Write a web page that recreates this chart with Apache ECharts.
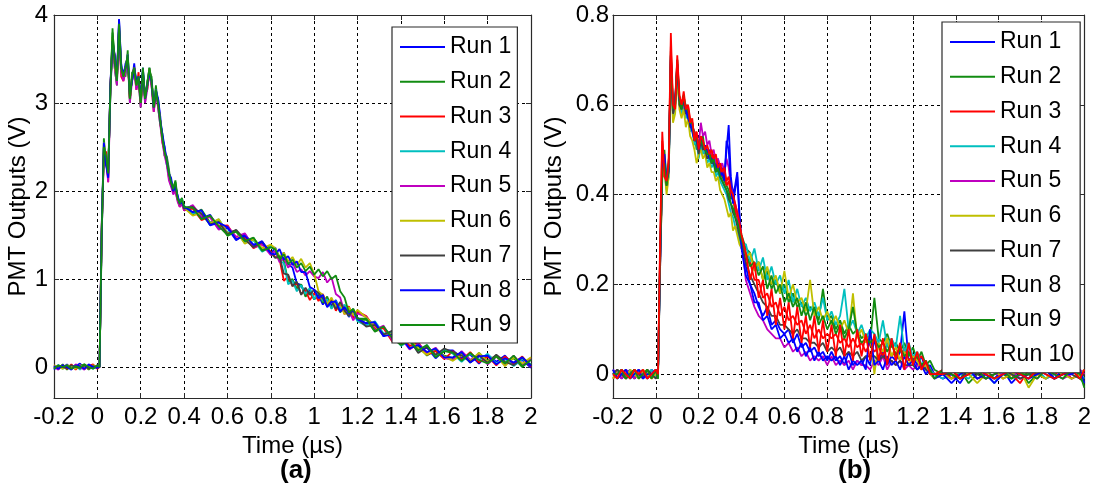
<!DOCTYPE html>
<html>
<head>
<meta charset="utf-8">
<script src="https://cdn.jsdelivr.net/npm/echarts@6.0.0/dist/echarts.min.js"></script>
<style>
html, body { margin: 0; padding: 0; background: #fff; }
#chart { width: 1094px; height: 487px; }
</style>
</head>
<body>
<div id="chart"></div>
<script>
// time axes (us)
const timeA = [-0.2,-0.18,-0.16,-0.14,-0.12,-0.1,-0.08,-0.06,-0.04,-0.02,0,
  0.01,0.02,0.03,0.04,0.05,0.06,0.07,0.08,0.09,0.1,
  0.11,0.12,0.13,0.14,0.15,0.16,0.17,0.18,0.19,0.2,
  0.21,0.22,0.23,0.24,0.25,0.26,0.27,0.28,0.29,0.3,
  0.31,0.32,0.33,0.34,0.35,0.36,0.37,0.38,0.39,0.4,
  0.44,0.48,0.52,0.56,0.6,0.64,0.68,0.72,0.76,0.8,
  0.82,0.84,0.86,0.88,0.9,0.92,0.94,0.96,0.98,1,
  1.02,1.04,1.06,1.08,1.1,1.12,1.14,1.16,1.18,1.2,
  1.24,1.28,1.32,1.36,1.4,1.44,1.48,1.52,1.56,1.6,
  1.64,1.68,1.72,1.76,1.8,1.84,1.88,1.92,1.96,2]

const timeB = [-0.2,-0.18,-0.16,-0.14,-0.12,-0.1,-0.08,-0.06,-0.04,-0.02,0,
  0.01,0.02,0.03,0.04,0.05,0.06,0.07,0.08,0.09,0.1,
  0.11,0.12,0.13,0.14,0.15,0.16,0.17,0.18,0.19,0.2,
  0.21,0.22,0.23,0.24,0.25,0.26,0.27,0.28,0.29,0.3,
  0.31,0.32,0.33,0.34,0.35,0.36,0.37,0.38,0.39,0.4,
  0.42,0.44,0.46,0.48,0.5,0.52,0.54,0.56,0.58,0.6,
  0.62,0.64,0.66,0.68,0.7,0.72,0.74,0.76,0.78,0.8,
  0.82,0.84,0.86,0.88,0.9,0.92,0.94,0.96,0.98,1,
  1.02,1.04,1.06,1.08,1.1,1.12,1.14,1.16,1.18,1.2,
  1.22,1.24,1.26,1.28,1.3,
  1.34,1.38,1.42,1.46,1.5,1.54,1.58,1.62,1.66,1.7,1.74,1.78,1.82,1.86,1.9,1.94,1.98,2]

// panel (a) runs, volts
const runA1 = [-0.03,0.02,-0.01,0.03,-0.02,0.01,0.04,-0.02,0.02,-0.01,0.02,
  0,1.55,2.5,2.4,2.15,3.2,3.75,3.5,3.3,3.95,
  3.45,3.3,3.45,3.5,3.1,3.25,3.45,3.2,3.3,3.05,
  3.35,3.1,3.2,3.4,3.2,3,3.1,3.05,2.85,2.6,
  2.5,2.3,2.2,2.15,2,2.05,1.95,1.84,1.88,1.8,
  1.83,1.69,1.73,1.57,1.58,1.44,1.51,1.38,1.43,1.28,
  1.36,1.24,1.3,1.17,1.13,0.95,0.93,0.82,0.88,0.77,
  0.82,0.71,0.78,0.7,0.76,0.64,0.67,0.57,0.63,0.56,
  0.49,0.49,0.35,0.41,0.28,0.31,0.18,0.22,0.1,0.19,
  0.19,0.1,0.14,0.04,0.14,0.06,0.13,0.02,0.08,-0.01]
const runA2 = [0.01,-0.02,0.03,-0.03,0.02,-0.01,0.01,0.03,-0.03,0.01,-0.01,
  0.01,1.45,2.6,2.3,2.25,3.1,3.85,3.4,3.2,3.85,
  3.35,3.35,3.3,3.6,3,3.35,3.35,3.25,3.25,2.95,
  3.4,3,3.25,3.35,3.3,2.95,3.2,2.95,2.75,2.65,
  2.4,2.4,2.25,2.05,2.05,2.1,1.9,1.88,1.92,1.83,
  1.73,1.79,1.64,1.67,1.49,1.54,1.41,1.47,1.33,1.38,
  1.34,1.25,1.21,0.97,1,0.89,0.94,0.8,0.85,0.77,
  0.85,0.73,0.8,0.67,0.73,0.62,0.7,0.6,0.66,0.53,
  0.54,0.4,0.45,0.33,0.36,0.22,0.24,0.13,0.19,0.13,
  0.1,0.15,0.05,0.16,0.07,0.13,0.03,0.1,0,0.09]
const runA3 = [0.02,-0.01,0.01,-0.02,0.03,-0.03,0.02,-0.01,0.01,0.03,-0.02,
  0,1.6,2.4,2.45,2.1,3.2,3.65,3.55,3.25,3.8,
  3.3,3.25,3.4,3.5,3.05,3.3,3.4,3.15,3.35,3,
  3.3,3.1,3.15,3.35,3.2,2.9,3.1,3,2.8,2.55,
  2.45,2.35,2.15,2.1,1.98,2,1.9,1.82,1.86,1.78,
  1.8,1.67,1.71,1.6,1.61,1.46,1.48,1.35,1.4,1.31,
  1.25,1.23,0.98,1.03,0.92,0.95,0.83,0.87,0.76,0.84,
  0.75,0.83,0.71,0.77,0.64,0.72,0.6,0.69,0.56,0.63,
  0.58,0.44,0.44,0.29,0.35,0.24,0.28,0.14,0.18,0.09,
  0.18,0.08,0.17,0.05,0.12,0.02,0.12,0.04,0.12,0]
const runA4 = [-0.01,0.02,-0.02,0.01,0,0.02,-0.03,0.02,0,-0.02,0.01,
  0,1.5,2.5,2.35,2.2,3.1,3.7,3.45,3.3,3.85,
  3.4,3.3,3.35,3.55,3.1,3.3,3.35,3.2,3.3,3,
  3.35,3.05,3.2,3.4,3.25,2.95,3.15,3,2.8,2.6,
  2.45,2.35,2.2,2.1,2,2.08,1.92,1.86,1.9,1.82,
  1.75,1.76,1.61,1.68,1.53,1.55,1.42,1.44,1.31,1.37,
  1.35,1.21,1.18,0.94,0.98,0.86,0.93,0.83,0.9,0.77,
  0.86,0.75,0.77,0.66,0.75,0.66,0.71,0.58,0.62,0.52,
  0.47,0.52,0.38,0.4,0.24,0.3,0.17,0.25,0.12,0.2,
  0.15,0.06,0.15,0.08,0.15,0.04,0.09,0.01,0.09,0.03]
const runA5 = [0,-0.03,0.02,0,-0.02,0.03,0,-0.03,0.02,0,0.01,
  0,1.5,2.45,2.35,2.1,3.1,3.7,3.4,3.2,3.85,
  3.35,3.25,3.35,3.5,3,3.25,3.35,3.15,3.25,2.95,
  3.3,3,3.15,3.35,3.2,2.9,3.1,2.95,2.75,2.55,
  2.4,2.3,2.12,2.05,1.96,2,1.88,1.82,1.85,1.78,
  1.84,1.71,1.7,1.56,1.6,1.48,1.52,1.36,1.39,1.27,
  1.32,1.19,1.24,1.13,1.19,1.08,1.11,1.04,1.09,1.03,
  1.01,1.08,0.96,1.02,0.83,0.79,0.62,0.65,0.53,0.61,
  0.57,0.42,0.47,0.3,0.33,0.2,0.27,0.16,0.22,0.1,
  0.08,0.18,0.08,0.15,0.03,0.12,0.02,0.13,0.02,0.1]
const runA6 = [0.02,0,-0.02,0.02,0.01,-0.02,0.02,0,-0.02,0.02,0,
  0,1.55,2.55,2.35,2.2,3.15,3.75,3.45,3.25,3.9,
  3.4,3.3,3.4,3.55,3.05,3.3,3.4,3.2,3.3,3,
  3.35,3.05,3.2,3.4,3.25,2.95,3.15,3,2.8,2.6,
  2.45,2.35,2.2,2.1,2.02,2.05,1.92,1.85,1.88,1.81,
  1.72,1.75,1.63,1.68,1.52,1.55,1.4,1.45,1.35,1.39,
  1.35,1.25,1.3,1.2,1.25,1.16,1.23,1.13,1.18,1.06,
  0.86,0.82,0.71,0.79,0.68,0.73,0.6,0.68,0.59,0.65,
  0.56,0.47,0.36,0.38,0.26,0.32,0.21,0.14,0.21,0.12,
  0.07,0.14,0.07,0.16,0.06,0.13,0.01,0.11,0.04,0.11]
const runA7 = [-0.02,0.01,0,-0.01,0.02,0,-0.01,0.02,-0.02,0.01,0,
  0,1.5,2.5,2.3,2.2,3.15,3.7,3.45,3.3,3.85,
  3.4,3.3,3.4,3.5,3.05,3.3,3.4,3.2,3.3,3,
  3.35,3.05,3.2,3.38,3.25,2.95,3.12,3,2.8,2.6,
  2.45,2.35,2.2,2.1,2,2.06,1.92,1.85,1.88,1.8,
  1.82,1.74,1.62,1.65,1.51,1.56,1.45,1.36,1.42,1.3,
  1.24,1.26,1.06,1.05,0.92,0.97,0.82,0.9,0.82,0.88,
  0.84,0.78,0.69,0.75,0.66,0.74,0.64,0.58,0.65,0.55,
  0.46,0.48,0.37,0.41,0.27,0.31,0.16,0.23,0.14,0.21,
  0.17,0.13,0.06,0.13,0.05,0.14,0.06,0.02,0.11,0.02]
const runA8 = [0.01,-0.02,0.02,0,-0.03,0.02,0.01,-0.02,0.03,0,-0.01,
  0,1.6,2.55,2.3,2.15,3.2,3.7,3.55,3.25,3.95,
  3.4,3.35,3.4,3.55,3.1,3.25,3.4,3.25,3.3,3.05,
  3.4,3.05,3.2,3.35,3.25,2.95,3.15,3.05,2.8,2.65,
  2.5,2.35,2.2,2.12,2,2.05,1.95,1.86,1.87,1.82,
  1.76,1.78,1.61,1.64,1.59,1.45,1.49,1.39,1.42,1.29,
  1.28,1.34,1.22,1.26,1.16,1.2,1.08,1.08,0.91,0.88,
  0.78,0.82,0.68,0.74,0.74,0.63,0.68,0.61,0.65,0.54,
  0.5,0.51,0.35,0.37,0.34,0.21,0.25,0.17,0.21,0.11,
  0.11,0.17,0.05,0.12,0.13,0.03,0.1,0.05,0.11,0.01]
const runA9 = [-0.02,0.02,0,0.02,-0.02,0.01,-0.01,0.03,0,-0.02,0.02,
  0,1.55,2.5,2.4,2.2,3.15,3.8,3.5,3.25,3.9,
  3.4,3.3,3.4,3.55,3.05,3.3,3.4,3.2,3.3,3,
  3.4,3.05,3.2,3.4,3.25,2.95,3.15,3,2.8,2.6,
  2.45,2.35,2.2,2.1,2.02,2.12,1.92,1.86,1.9,1.82,
  1.81,1.68,1.72,1.6,1.5,1.54,1.43,1.47,1.32,1.36,
  1.34,1.23,1.28,1.17,1.22,1.13,1.18,1.09,1.14,1.05,
  1.11,1.03,1.09,1,1.04,0.86,0.79,0.62,0.66,0.55,
  0.55,0.41,0.46,0.33,0.25,0.3,0.19,0.25,0.11,0.18,
  0.16,0.07,0.16,0.08,0.04,0.12,0.04,0.13,0.01,0.08]

// panel (b) runs, volts
const runB1 = [0,0.01,-0.01,0,0.01,-0.01,0,0.01,-0.01,0.01,0,
  0,0.26,0.45,0.48,0.42,0.46,0.7,0.58,0.6,0.68,
  0.6,0.61,0.6,0.58,0.59,0.55,0.56,0.53,0.52,0.5,
  0.52,0.5,0.51,0.49,0.5,0.48,0.49,0.46,0.48,0.45,
  0.46,0.44,0.5,0.555,0.44,0.4,0.42,0.45,0.36,0.3,
  0.24,0.2,0.18,0.15,0.13,0.15,0.11,0.12,0.1,0.09,
  0.1,0.07,0.09,0.06,0.07,0.05,0.06,0.04,0.05,0.03,
  0.05,0.03,0.04,0.02,0.05,0.02,0.03,0.02,0.04,0.02,
  0.08,0.03,0.05,0.02,0.04,0.03,0.05,0.14,0.03,0.04,
  0.02,0.04,0.01,0.02,0,
  -0.01,0,-0.02,0.01,-0.01,0,-0.01,0.01,-0.02,0,-0.01,0.01,0,-0.01,0.01,-0.01,0,0.01]
const runB2 = [0.01,-0.01,0,0.01,0,-0.01,0.01,0,-0.01,0,0.01,
  -0.01,0.24,0.44,0.5,0.43,0.45,0.72,0.6,0.59,0.69,
  0.61,0.59,0.61,0.6,0.57,0.56,0.55,0.54,0.5,0.51,
  0.52,0.53,0.49,0.5,0.48,0.49,0.47,0.46,0.45,0.45,
  0.44,0.43,0.42,0.41,0.39,0.4,0.36,0.35,0.33,0.31,
  0.28,0.27,0.24,0.25,0.21,0.23,0.19,0.21,0.18,0.2,
  0.16,0.18,0.15,0.16,0.13,0.15,0.14,0.12,0.19,0.12,
  0.13,0.1,0.12,0.09,0.11,0.09,0.1,0.08,0.09,0.07,
  0.17,0.08,0.07,0.09,0.06,0.07,0.05,0.07,0.04,0.06,
  0.03,0.05,0.02,0.03,0.01,
  0,-0.01,0.01,-0.02,0,0.01,-0.01,0,-0.01,0.01,-0.02,0,0.01,-0.01,0,0.01,-0.01,-0.02]
const runB3 = [-0.01,0,0.01,-0.01,0,0.01,-0.01,0,0.01,-0.01,0,
  0,0.28,0.52,0.44,0.43,0.48,0.73,0.59,0.61,0.7,
  0.62,0.6,0.63,0.59,0.6,0.57,0.56,0.53,0.54,0.5,
  0.53,0.51,0.5,0.5,0.49,0.49,0.47,0.48,0.46,0.46,
  0.44,0.45,0.42,0.43,0.4,0.39,0.37,0.35,0.33,0.3,
  0.26,0.25,0.21,0.21,0.17,0.18,0.15,0.16,0.13,0.15,
  0.12,0.13,0.11,0.12,0.09,0.11,0.08,0.1,0.08,0.09,
  0.08,0.09,0.07,0.08,0.06,0.08,0.06,0.07,0.05,0.07,
  0.05,0.06,0.04,0.07,0.04,0.05,0.03,0.06,0.03,0.04,
  0.03,0.04,0.02,0.01,0,
  0.01,-0.01,0,0.01,-0.01,0,0.01,-0.01,0,-0.02,0.01,0,-0.01,0,0.01,-0.01,0,0]
const runB4 = [0,-0.01,0.01,0,-0.01,0,0.01,-0.01,0,0.01,-0.01,
  0,0.25,0.46,0.45,0.41,0.44,0.69,0.57,0.6,0.67,
  0.6,0.58,0.6,0.57,0.58,0.54,0.55,0.51,0.52,0.48,
  0.51,0.49,0.5,0.47,0.48,0.46,0.47,0.44,0.45,0.43,
  0.42,0.41,0.4,0.38,0.36,0.35,0.33,0.32,0.3,0.28,
  0.29,0.25,0.28,0.23,0.26,0.21,0.24,0.2,0.22,0.18,
  0.21,0.16,0.19,0.15,0.17,0.14,0.16,0.13,0.17,0.12,
  0.14,0.11,0.13,0.19,0.1,0.12,0.09,0.11,0.08,0.1,
  0.09,0.07,0.12,0.06,0.08,0.06,0.13,0.05,0.07,0.04,
  0.05,0.02,0.03,0.01,0,
  -0.01,0.01,0,-0.01,0.01,0,-0.02,0.01,0,-0.01,0,0.01,-0.01,0,-0.01,0.01,0,-0.01]
const runB5 = [0.01,0,-0.01,0.01,0,-0.01,0.01,0,-0.01,0,0.01,
  0,0.24,0.45,0.46,0.42,0.45,0.7,0.58,0.6,0.68,
  0.61,0.6,0.6,0.58,0.58,0.56,0.55,0.53,0.52,0.51,
  0.56,0.53,0.54,0.51,0.52,0.49,0.5,0.47,0.48,0.46,
  0.47,0.45,0.48,0.46,0.42,0.4,0.38,0.36,0.33,0.3,
  0.21,0.18,0.15,0.13,0.12,0.1,0.09,0.08,0.08,0.06,
  0.07,0.05,0.06,0.04,0.05,0.03,0.04,0.03,0.04,0.02,
  0.04,0.02,0.03,0.02,0.03,0.01,0.03,0.02,0.02,0.01,
  0.03,0.02,0.04,0.01,0.03,0.02,0.03,0.01,0.02,0.01,
  0.02,0.01,0.02,0,0,
  0,0.01,-0.01,0,0.01,-0.01,0,0,0.01,-0.01,0,-0.01,0.01,0,-0.01,0,0.01,0]
const runB6 = [-0.01,0.01,0,-0.01,0.01,0,-0.01,0.01,0,-0.01,0,
  0,0.25,0.44,0.46,0.4,0.44,0.69,0.56,0.58,0.66,
  0.59,0.57,0.59,0.55,0.57,0.53,0.52,0.5,0.47,0.49,
  0.5,0.48,0.49,0.46,0.47,0.45,0.45,0.43,0.44,0.41,
  0.4,0.39,0.37,0.35,0.36,0.32,0.33,0.31,0.29,0.28,
  0.26,0.27,0.23,0.25,0.21,0.24,0.2,0.22,0.18,0.23,
  0.17,0.2,0.16,0.17,0.14,0.21,0.13,0.15,0.12,0.14,
  0.11,0.13,0.1,0.12,0.09,0.18,0.08,0.1,0.07,0.09,
  0,0.07,0.05,0.08,0.04,0.06,0.03,0.05,0.02,0.04,
  0.03,0.01,0.02,0,-0.01,
  0,-0.01,0.01,0,-0.02,0,0.01,-0.01,0,0.01,-0.03,0,-0.01,0.01,0,-0.01,0,0.01]
const runB7 = [0,0.01,0,-0.01,0,0.01,0,-0.01,0.01,0,-0.01,
  0,0.26,0.46,0.47,0.42,0.46,0.71,0.58,0.6,0.69,
  0.6,0.59,0.61,0.58,0.59,0.55,0.55,0.52,0.52,0.49,
  0.52,0.5,0.5,0.48,0.49,0.47,0.47,0.45,0.46,0.44,
  0.43,0.42,0.41,0.39,0.38,0.36,0.35,0.33,0.31,0.29,
  0.25,0.22,0.2,0.18,0.16,0.15,0.13,0.13,0.11,0.11,
  0.1,0.09,0.1,0.08,0.08,0.07,0.07,0.06,0.07,0.05,
  0.06,0.05,0.06,0.04,0.05,0.04,0.05,0.03,0.04,0.04,
  0.04,0.03,0.04,0.03,0.03,0.02,0.03,0.02,0.02,0.02,
  0.01,0.02,0.01,0,0,
  0,0,-0.01,0.01,0,-0.01,0,0.01,0,-0.01,0,0,0.01,-0.01,0,0,-0.01,0]
const runB8 = [0.01,-0.01,0,0.01,-0.01,0,0.01,-0.01,0,0,0.01,
  0,0.25,0.47,0.49,0.43,0.45,0.71,0.59,0.61,0.69,
  0.61,0.6,0.61,0.59,0.57,0.56,0.54,0.52,0.53,0.5,
  0.53,0.51,0.5,0.5,0.48,0.48,0.47,0.46,0.47,0.44,
  0.45,0.43,0.52,0.5,0.42,0.38,0.41,0.44,0.35,0.28,
  0.22,0.2,0.16,0.16,0.12,0.13,0.1,0.11,0.08,0.09,
  0.07,0.08,0.05,0.07,0.04,0.06,0.03,0.05,0.03,0.04,
  0.03,0.04,0.02,0.04,0.01,0.03,0.02,0.03,0.01,0.1,
  0.02,0.03,0.01,0.04,0.02,0.03,0.01,0.04,0.02,0.03,
  0.01,0.02,0,0.01,-0.01,
  0,-0.02,0,0.01,-0.01,0,-0.02,0,0.01,0,-0.01,0,0.01,-0.01,0,0,0.01,-0.02]
const runB9 = [0,0,0.01,-0.01,0,0.01,-0.01,0,0.01,-0.01,0.01,
  -0.01,0.27,0.45,0.47,0.42,0.46,0.71,0.59,0.6,0.7,
  0.61,0.59,0.62,0.59,0.59,0.56,0.56,0.52,0.53,0.51,
  0.52,0.51,0.5,0.49,0.49,0.47,0.48,0.45,0.46,0.44,
  0.43,0.42,0.41,0.4,0.38,0.37,0.35,0.34,0.32,0.3,
  0.27,0.24,0.25,0.22,0.24,0.19,0.22,0.18,0.2,0.16,
  0.18,0.15,0.17,0.13,0.16,0.12,0.15,0.11,0.13,0.1,
  0.12,0.09,0.11,0.08,0.1,0.15,0.09,0.07,0.08,0.07,
  0.08,0.06,0.07,0.05,0.07,0.04,0.06,0.04,0.05,0.03,
  0.04,0.02,0.03,0.01,-0.01,
  0.01,0,-0.01,0,0.01,-0.01,0,0.01,-0.01,0,0,-0.01,0.01,0,-0.01,0.01,0,-0.03]
const runB10 = [0,-0.01,0.01,0,-0.01,0.01,0,0.01,-0.01,0,0.01,
  0,0.3,0.54,0.44,0.43,0.47,0.76,0.6,0.59,0.71,
  0.62,0.6,0.62,0.59,0.6,0.56,0.57,0.52,0.54,0.5,
  0.53,0.52,0.5,0.51,0.49,0.5,0.48,0.49,0.46,0.47,
  0.45,0.46,0.43,0.44,0.41,0.4,0.38,0.36,0.34,0.31,
  0.27,0.21,0.25,0.17,0.21,0.13,0.19,0.11,0.17,0.1,
  0.16,0.08,0.15,0.07,0.13,0.06,0.13,0.05,0.12,0.05,
  0.11,0.04,0.11,0.04,0.1,0.03,0.1,0.04,0.09,0.03,
  0.09,0.03,0.08,0.02,0.08,0.03,0.07,0.01,0.07,0.02,
  0.05,0.01,0.03,0,0,
  0,0.01,-0.01,0,0.01,0,-0.01,0,0.01,0,-0.01,0.01,0,-0.01,0,0.01,-0.01,0.01]

const runNames = ["Run 1", "Run 2", "Run 3", "Run 4", "Run 5", "Run 6", "Run 7", "Run 8", "Run 9", "Run 10"]
const runColors = ["#0000ff", "#128c12", "#ff0000", "#00bfbf", "#bf00bf", "#bfbf00", "#404040", "#0000ff", "#128c12", "#ff0000"]
const xTicks = [-0.2, 2, 0.2]
const yTicksA = [0, 1, 2, 3, 4]
const yTicksB = [0, 0.2, 0.4, 0.6, 0.8]

const FONT = "Liberation Sans, Arial, sans-serif"

function makeSeries(times, runs, axisIdx) {
    return runs.map((vals, k) => ({
        name: runNames[k],
        type: "line",
        xAxisIndex: axisIdx,
        yAxisIndex: axisIdx,
        data: times.map((t, i) => [t, vals[i]]),
        showSymbol: false,
        symbol: "none",
        lineStyle: { width: 1.8, color: runColors[k] },
        itemStyle: { color: runColors[k] },
    }))
}

function xAxisPair(gridIndex) {
    const base = {
        gridIndex: gridIndex,
        type: "value",
        min: xTicks[0],
        max: xTicks[1],
        interval: xTicks[2],
        axisLine: { show: true, onZero: false, lineStyle: { color: "#2a2a2a", width: 1.2 } },
        axisTick: { show: true, inside: true, length: 5, lineStyle: { color: "#2a2a2a" } },
    }
    return [
        Object.assign({}, base, {
            position: "bottom",
            name: "Time (µs)",
            nameLocation: "middle",
            nameGap: 28,
            nameTextStyle: { fontFamily: FONT, fontSize: 24, color: "#000" },
            axisLabel: { fontFamily: FONT, fontSize: 24, color: "#000", margin: 7 },
            splitLine: { show: true, lineStyle: { color: "#000", type: [3, 3], width: 1 } },
        }),
        Object.assign({}, base, {
            position: "top",
            axisLabel: { show: false },
            splitLine: { show: false },
        }),
    ]
}

function yAxisPair(gridIndex, min, ticks, labelMargin, nameGap) {
    const base = {
        gridIndex: gridIndex,
        type: "value",
        min: min,
        max: ticks[ticks.length - 1],
        axisLine: { show: true, onZero: false, lineStyle: { color: "#2a2a2a", width: 1.2 } },
        axisTick: { show: true, inside: true, length: 5, customValues: ticks, lineStyle: { color: "#2a2a2a" } },
    }
    return [
        Object.assign({}, base, {
            position: "left",
            name: "PMT Outputs (V)",
            nameLocation: "middle",
            nameGap: nameGap,
            nameTextStyle: { fontFamily: FONT, fontSize: 24, color: "#000" },
            axisLabel: { fontFamily: FONT, fontSize: 24, color: "#000", margin: labelMargin, customValues: ticks },
            splitLine: { show: true, lineStyle: { color: "#000", type: [3, 3], width: 1 } },
        }),
        Object.assign({}, base, {
            position: "right",
            axisLabel: { show: false },
            splitLine: { show: false },
        }),
    ]
}

function makeLegend(left, top, names) {
    return {
        data: names,
        orient: "vertical",
        left: left,
        top: top,
        icon: "rect",
        itemWidth: 45,
        itemHeight: 2,
        itemGap: 8.75,
        padding: [7, 6, 5, 8],
        backgroundColor: "#fff",
        borderColor: "#2a2a2a",
        borderWidth: 1.2,
        selectedMode: false,
        textStyle: { fontFamily: FONT, fontSize: 23, color: "#000", lineHeight: 26 },
    }
}

const chart = echarts.init(document.getElementById("chart"), null, { renderer: "canvas" })

const option = {
    backgroundColor: "#fff",
    animation: false,
    grid: [
        { left: 54, top: 15, width: 477, height: 383 },
        { left: 613, top: 15, width: 476, height: 383 },
    ],
    xAxis: xAxisPair(0).concat(xAxisPair(1)),
    yAxis: yAxisPair(0, -0.352, yTicksA, 6, 24).concat(yAxisPair(1, -0.053, yTicksB, 4, 47)),
    legend: [
        makeLegend(392, 27, runNames.slice(0, 9)),
        makeLegend(942, 22, runNames),
    ],
    graphic: [
        { type: "text", left: 280, top: 458, style: { text: "(a)", font: "bold 26px " + FONT, fill: "#000" } },
        { type: "text", left: 838, top: 458, style: { text: "(b)", font: "bold 26px " + FONT, fill: "#000" } },
    ],
    series: makeSeries(timeA, [runA1, runA2, runA3, runA4, runA5, runA6, runA7, runA8, runA9], 0)
        .concat(makeSeries(timeB, [runB1, runB2, runB3, runB4, runB5, runB6, runB7, runB8, runB9, runB10], 2)),
}

chart.setOption(option)
</script>
</body>
</html>
